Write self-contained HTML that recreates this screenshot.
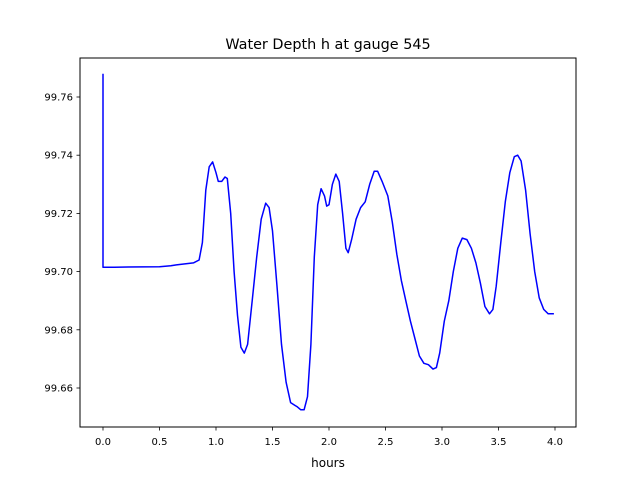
<!DOCTYPE html>
<html><head><meta charset="utf-8"><style>
body{margin:0;background:#fff;font-family:"Liberation Sans","DejaVu Sans",sans-serif;overflow:hidden}
</style></head><body>
<svg id="chart" width="640" height="480" xmlns="http://www.w3.org/2000/svg" font-family="DejaVu Sans, Liberation Sans, sans-serif" style="display:block">
<rect width="640" height="480" fill="#fff"/>
<text x="328" y="49" font-size="14.4" text-anchor="middle">Water Depth h at gauge 545</text>
<g id="plot"></g>
<rect x="80" y="58" width="496" height="369" fill="none" stroke="#000" stroke-width="1"/>
<text x="328" y="467" font-size="12" text-anchor="middle">hours</text>
</svg>
<script>
const hours=[0,0,0.1,0.5,0.6,0.65,0.8,0.85,0.88,0.91,0.94,0.97,1.0,1.02,1.05,1.08,1.1,1.13,1.16,1.19,1.22,1.25,1.28,1.32,1.36,1.4,1.44,1.47,1.5,1.54,1.58,1.62,1.66,1.7,1.72,1.75,1.78,1.81,1.84,1.87,1.9,1.93,1.96,1.98,2.0,2.03,2.06,2.09,2.12,2.15,2.17,2.2,2.24,2.28,2.32,2.36,2.4,2.43,2.47,2.52,2.56,2.6,2.64,2.68,2.72,2.76,2.8,2.84,2.88,2.92,2.95,2.98,3.02,3.06,3.1,3.14,3.18,3.22,3.26,3.3,3.34,3.38,3.42,3.45,3.48,3.52,3.56,3.6,3.64,3.67,3.7,3.74,3.78,3.82,3.86,3.9,3.94,3.99];
const depth=[99.768,99.7015,99.7015,99.7017,99.702,99.7023,99.703,99.704,99.71,99.728,99.736,99.7377,99.734,99.731,99.731,99.7325,99.732,99.72,99.70,99.685,99.674,99.672,99.675,99.69,99.705,99.718,99.7235,99.722,99.714,99.695,99.675,99.662,99.655,99.654,99.6535,99.6525,99.6525,99.657,99.675,99.705,99.723,99.7285,99.726,99.7225,99.723,99.730,99.7335,99.731,99.72,99.708,99.7065,99.711,99.718,99.722,99.724,99.73,99.7345,99.7345,99.731,99.726,99.717,99.706,99.697,99.690,99.683,99.677,99.671,99.6685,99.668,99.6665,99.667,99.672,99.683,99.69,99.70,99.708,99.7115,99.711,99.708,99.703,99.696,99.688,99.6855,99.687,99.695,99.71,99.724,99.734,99.7395,99.740,99.738,99.728,99.713,99.700,99.691,99.687,99.6855,99.6855];
const xTicks=[0.0,0.5,1.0,1.5,2.0,2.5,3.0,3.5,4.0];
const yTicks=[99.66,99.68,99.70,99.72,99.74,99.76];
const NS="http://www.w3.org/2000/svg";
const X=v=>103+(v-0)*113;
const Y=v=>97+(99.76-v)*2910;
const g=document.getElementById('plot');
function mk(t,a){const e=document.createElementNS(NS,t);for(const k in a)e.setAttribute(k,a[k]);g.appendChild(e);return e;}
xTicks.forEach(t=>{const x=X(t);
 const l=mk('line',{x1:x,x2:x,y1:427,y2:430.5,stroke:'#000','stroke-width':0.8});
 
 
 const s=mk('text',{x:x,y:445,'font-size':10,'text-anchor':'middle'});s.textContent=t.toFixed(1);
 
 
});
yTicks.forEach(t=>{const y=Y(t);
 const l=mk('line',{x1:76.5,x2:80,y1:y,y2:y,stroke:'#000','stroke-width':0.8});
 
 
 const s=mk('text',{x:73,y:y+3.5,'font-size':10,'text-anchor':'end'});s.textContent=t.toFixed(2);
 
 
});
const pts=hours.map((h,i)=>X(h).toFixed(1)+','+Y(depth[i]).toFixed(1)).join(' ');
const p=mk('polyline',{points:pts,fill:'none',stroke:'#0000ff','stroke-width':1.5,'stroke-linejoin':'round'});


</script>
</body></html>
